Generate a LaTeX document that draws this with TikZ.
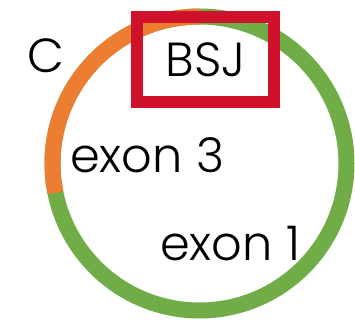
\documentclass[tikz,border=0pt]{standalone}
\usepackage{fontspec}
\setmainfont{Poppins}[UprightFont=* Light]
\definecolor{ringgreen}{HTML}{70AD47}
\definecolor{ringorange}{HTML}{ED7D31}
\definecolor{bsjred}{HTML}{D0112B}
\begin{document}
\begin{tikzpicture}[x=1bp,y=1bp,
  ring/.style={line width=16bp},
  label/.style={font=\fontsize{48}{50}\selectfont, inner sep=0pt, anchor=base west},
  bsjbox/.style={draw=bsjred, line width=12bp, minimum width=137bp, minimum height=84.5bp,
    inner sep=0pt, text height=34bp, text depth=0pt, font=\fontsize{48}{50}\selectfont}]
  \useasboundingbox (0,0) rectangle (355,320);
  \coordinate (c) at (199.5,156.5);
  % circular RNA: exon 1 (green) and exon 3 (orange)
  \draw[ring, ringgreen] (c) circle (147);
  \draw[ring, ringorange] ([shift={(90:147)}]c) arc (90:191.5:147);
  % back-splice junction
  \node[bsjbox] (bsj) at (205.5,260.25) {BSJ};
  \node[label] (panel) at (27,248) {C};
  \node[label] (exthree) at (70,148) {exon 3};
  \node[label] (exone) at (160,60) {exon 1};
\end{tikzpicture}
\end{document}
